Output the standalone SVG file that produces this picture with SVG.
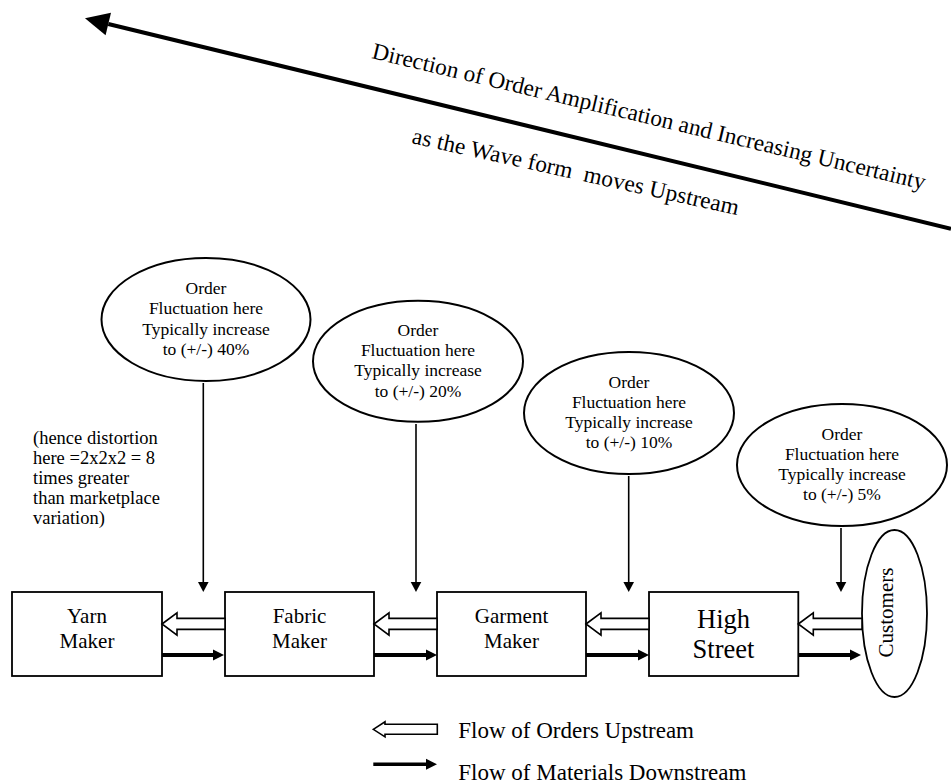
<svg xmlns="http://www.w3.org/2000/svg" width="951" height="784" viewBox="0 0 951 784">
  <style>
    text { font-family: "Liberation Serif", "Times New Roman", serif; fill: #000; }
    .node { fill: #fff; stroke: #000; stroke-width: 1.8; }
    .bubble { fill: #fff; stroke: #000; stroke-width: 2; }
    .bubble-text { font-size: 17.5px; text-anchor: middle; }
    .box-text { font-size: 21px; text-anchor: middle; }
    .big-text { font-size: 26.5px; text-anchor: middle; }
    .note { font-size: 18.5px; }
    .banner { font-size: 23.3px; }
    .legend-text { font-size: 23px; }
    .drop { stroke: #000; stroke-width: 1.6; fill: none; }
    .material { stroke: #000; stroke-width: 4.2; fill: none; }
    .order { fill: #fff; stroke: #000; stroke-width: 1.6; stroke-linejoin: miter; }
  </style>
  <defs>
    <marker id="dropHead" markerUnits="userSpaceOnUse" markerWidth="12" markerHeight="12" refX="0" refY="6" orient="auto" overflow="visible">
      <path d="M0,0.7 L10,6 L0,11.3 Z" fill="#000"/>
    </marker>
    <marker id="solidHead" markerUnits="userSpaceOnUse" markerWidth="12" markerHeight="12" refX="0" refY="6" orient="auto" overflow="visible">
      <path d="M0,0.5 L11,6 L0,11.5 Z" fill="#000"/>
    </marker>
    <marker id="bigHead" markerUnits="userSpaceOnUse" markerWidth="26" markerHeight="26" refX="0" refY="13" orient="auto" overflow="visible">
      <path d="M0,1.5 L24,13 L0,24.5 Z" fill="#000"/>
    </marker>
  </defs>

  <!-- direction banner -->
  <g id="direction">
    <line x1="951" y1="228.7" x2="108.3" y2="24" stroke="#000" stroke-width="4" marker-end="url(#bigHead)"/>
    <text class="banner" x="371" y="58" transform="rotate(13.4 371 58)" textLength="568">Direction of Order Amplification and Increasing Uncertainty</text>
    <text class="banner" x="411" y="143" transform="rotate(12.5 411 143)" textLength="334" xml:space="preserve">as the Wave form  moves Upstream</text>
  </g>

  <!-- fluctuation bubbles -->
  <g id="bubble-yarn">
    <ellipse class="bubble" cx="206" cy="319.5" rx="104.5" ry="61.5"/>
    <text class="bubble-text" x="206" y="294">Order</text>
    <text class="bubble-text" x="206" y="314.3">Fluctuation here</text>
    <text class="bubble-text" x="206" y="334.6">Typically increase</text>
    <text class="bubble-text" x="206" y="354.9">to (+/-) 40%</text>
  </g>
  <g id="bubble-fabric">
    <ellipse class="bubble" cx="418" cy="361.3" rx="105" ry="60.5"/>
    <text class="bubble-text" x="418" y="335.8">Order</text>
    <text class="bubble-text" x="418" y="356.1">Fluctuation here</text>
    <text class="bubble-text" x="418" y="376.4">Typically increase</text>
    <text class="bubble-text" x="418" y="396.7">to (+/-) 20%</text>
  </g>
  <g id="bubble-garment">
    <ellipse class="bubble" cx="629" cy="413" rx="105" ry="61"/>
    <text class="bubble-text" x="629" y="387.5">Order</text>
    <text class="bubble-text" x="629" y="407.8">Fluctuation here</text>
    <text class="bubble-text" x="629" y="428.1">Typically increase</text>
    <text class="bubble-text" x="629" y="448.4">to (+/-) 10%</text>
  </g>
  <g id="bubble-street">
    <ellipse class="bubble" cx="842" cy="465" rx="105" ry="61"/>
    <text class="bubble-text" x="842" y="439.5">Order</text>
    <text class="bubble-text" x="842" y="459.8">Fluctuation here</text>
    <text class="bubble-text" x="842" y="480.1">Typically increase</text>
    <text class="bubble-text" x="842" y="500.4">to (+/-) 5%</text>
  </g>

  <!-- side note -->
  <g id="note">
    <text class="note" x="33" y="443.5">(hence distortion</text>
    <text class="note" x="33" y="463.7">here =2x2x2 = 8</text>
    <text class="note" x="33" y="483.9">times greater</text>
    <text class="note" x="33" y="504.1">than marketplace</text>
    <text class="note" x="33" y="524.3">variation)</text>
  </g>

  <!-- supply chain stages -->
  <g id="yarn-maker">
    <rect class="node" x="12" y="592" width="150" height="84"/>
    <text class="box-text" x="87" y="623">Yarn</text>
    <text class="box-text" x="87" y="648">Maker</text>
  </g>
  <g id="fabric-maker">
    <rect class="node" x="225" y="592" width="149" height="84"/>
    <text class="box-text" x="299.5" y="623">Fabric</text>
    <text class="box-text" x="299.5" y="648">Maker</text>
  </g>
  <g id="garment-maker">
    <rect class="node" x="437" y="592" width="149" height="84"/>
    <text class="box-text" x="511.5" y="623">Garment</text>
    <text class="box-text" x="511.5" y="648">Maker</text>
  </g>
  <g id="high-street">
    <rect class="node" x="649" y="592" width="149.3" height="84"/>
    <text class="big-text" x="723.5" y="628">High</text>
    <text class="big-text" x="723.5" y="658">Street</text>
  </g>
  <g id="customers">
    <ellipse class="node" cx="894.5" cy="613.5" rx="32.5" ry="83.5"/>
    <text class="box-text" x="0" y="0" transform="translate(893 612.5) rotate(-90)">Customers</text>
  </g>

  <!-- connectors -->
  <g id="connectors">
    <!-- bubble to chain -->
    <line class="drop" x1="203.3" y1="383" x2="203.3" y2="582" marker-end="url(#dropHead)"/>
    <line class="drop" x1="416" y1="424" x2="416" y2="582" marker-end="url(#dropHead)"/>
    <line class="drop" x1="628.7" y1="476" x2="628.7" y2="582" marker-end="url(#dropHead)"/>
    <line class="drop" x1="841" y1="528" x2="841" y2="582" marker-end="url(#dropHead)"/>

    <!-- orders flowing upstream -->
    <path class="order" d="M162,624 L177,612.8 L177,618.4 L225,618.4 L225,629.4 L177,629.4 L177,635.2 Z"/>
    <path class="order" d="M374,624 L389,612.8 L389,618.4 L437,618.4 L437,629.4 L389,629.4 L389,635.2 Z"/>
    <path class="order" d="M586,624 L601,612.8 L601,618.4 L649,618.4 L649,629.4 L601,629.4 L601,635.2 Z"/>
    <path class="order" d="M798.3,624 L813.3,612.8 L813.3,618.4 L862,618.4 L862,629.4 L813.3,629.4 L813.3,635.2 Z"/>

    <!-- materials flowing downstream -->
    <line class="material" x1="162" y1="655" x2="213" y2="655" marker-end="url(#solidHead)"/>
    <line class="material" x1="374" y1="655" x2="426" y2="655" marker-end="url(#solidHead)"/>
    <line class="material" x1="586" y1="655" x2="638" y2="655" marker-end="url(#solidHead)"/>
    <line class="material" x1="798.3" y1="655" x2="850" y2="655" marker-end="url(#solidHead)"/>
  </g>

  <!-- key -->
  <g id="legend">
    <path class="order" d="M373.3,729.3 L385,721.8 L385,724.3 L437.3,724.3 L437.3,734.3 L385,734.3 L385,736.8 Z"/>
    <text class="legend-text" x="458.3" y="738">Flow of Orders Upstream</text>
    <line x1="373.3" y1="764.3" x2="426" y2="764.3" stroke="#000" stroke-width="3.6" marker-end="url(#solidHead)"/>
    <text class="legend-text" x="458.3" y="779.5">Flow of Materials Downstream</text>
  </g>
</svg>
